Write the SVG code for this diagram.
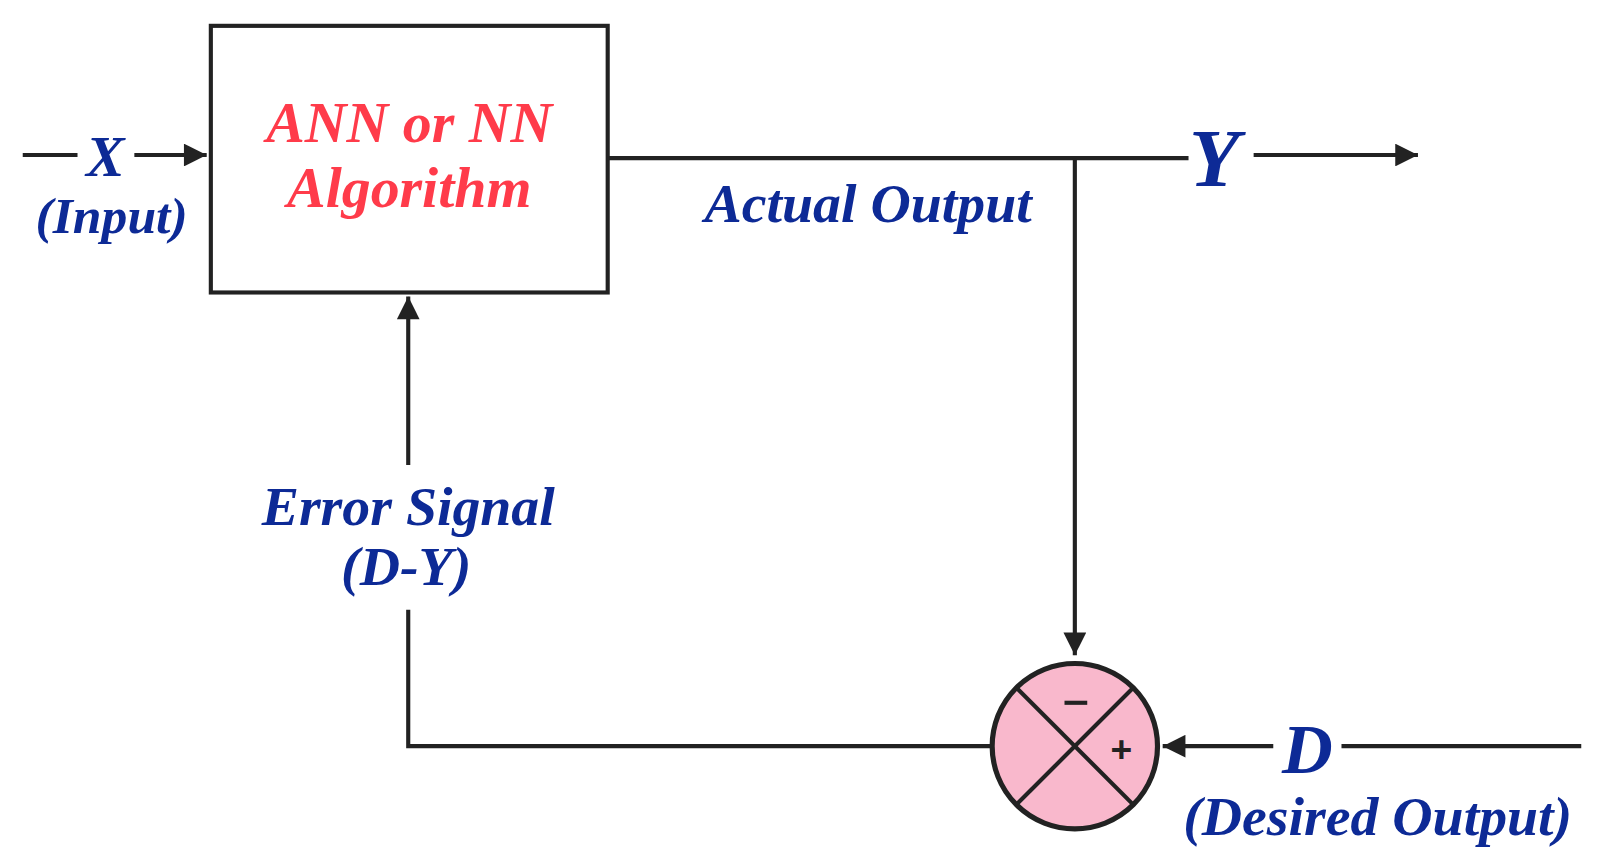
<svg xmlns="http://www.w3.org/2000/svg" width="1612" height="862" viewBox="0 0 1612 862">
<style>
.t{font-family:"Liberation Serif",serif;font-weight:bold;font-style:italic;fill:#0d2a96}
.r{font-family:"Liberation Serif",serif;font-weight:bold;font-style:italic;fill:#ff3b4a}
.l{stroke:#222;stroke-width:4;fill:none}
</style>
<defs>
<marker id="b" viewBox="0 0 10 10" refX="10" refY="5" markerWidth="24" markerHeight="22" orient="auto" markerUnits="userSpaceOnUse"><path d="M0,0L10,5L0,10z" fill="#222"/></marker></defs>
<rect width="1612" height="862" fill="#fff"/>
<g transform="scale(1.0335)">
<g id="connectors">
<line class="l" x1="22" y1="150" x2="75" y2="150"/>
<line class="l" x1="130" y1="150" x2="200" y2="150" marker-end="url(#b)"/>
<polyline class="l" points="588,153 1150,153"/>
<line class="l" x1="1213" y1="150" x2="1372" y2="150" marker-end="url(#b)"/>
<line class="l" x1="1040" y1="153" x2="1040" y2="634" marker-end="url(#b)"/>
<polyline class="l" points="960,722 395,722 395,590"/>
<line class="l" x1="395" y1="450" x2="395" y2="287" marker-end="url(#b)"/>
<line class="l" x1="1530" y1="722" x2="1298" y2="722"/>
<line class="l" x1="1232" y1="722" x2="1125" y2="722" marker-end="url(#b)"/>
</g>
<g id="ann">
<rect x="204" y="25" width="384" height="258" fill="#fff" stroke="#222" stroke-width="4"/>
<text class="r" x="396" y="137" font-size="56" text-anchor="middle">ANN or NN</text>
<text class="r" x="396" y="200" font-size="56" text-anchor="middle">Algorithm</text>
</g>
<g id="sum">
<circle cx="1040" cy="722" r="80" fill="#f9b8cc" stroke="#222" stroke-width="5"/>
<line class="l" x1="983" y1="665" x2="1097" y2="779"/>
<line class="l" x1="1097" y1="665" x2="983" y2="779"/>
<line class="l" x1="1030" y1="680" x2="1052" y2="680" stroke-width="3"/>
<text x="1085" y="737" font-family="Liberation Sans,sans-serif" font-size="36" font-weight="bold" fill="#222" text-anchor="middle">+</text>
</g>
<g id="labels">
<text class="t" x="102" y="170" font-size="56" text-anchor="middle">X</text>
<text class="t" x="108" y="225" font-size="50" text-anchor="middle">(Input)</text>
<text class="t" x="840" y="215" font-size="54" text-anchor="middle">Actual Output</text>
<text class="t" x="1175" y="180" font-size="80" text-anchor="middle">Y</text>
<text class="t" x="395" y="508" font-size="54" text-anchor="middle">Error Signal</text>
<text class="t" x="393" y="566" font-size="54" text-anchor="middle">(D-Y)</text>
<text class="t" x="1265" y="748" font-size="68" text-anchor="middle">D</text>
<text class="t" x="1333" y="808" font-size="54" text-anchor="middle">(Desired Output)</text>
</g>
</g>
</svg>
